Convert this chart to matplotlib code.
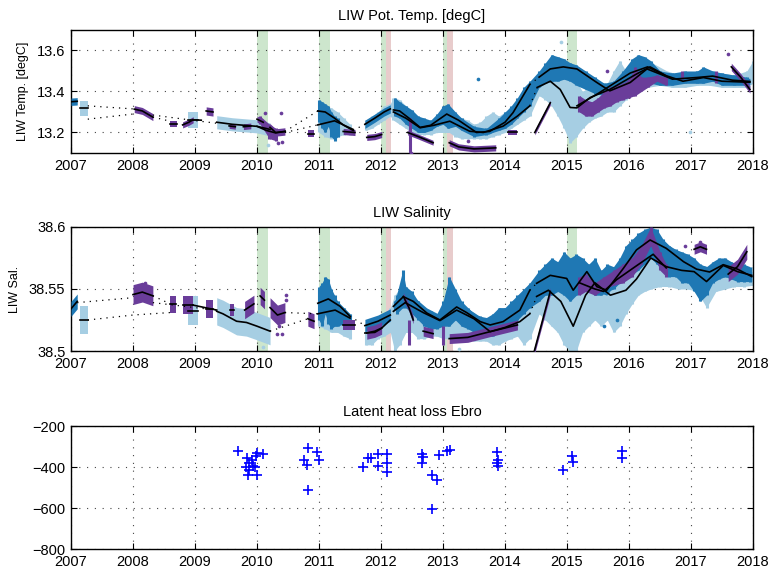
import matplotlib
matplotlib.use("Agg")
import matplotlib.pyplot as plt

plt.rcParams["font.family"] = ["Liberation Sans", "DejaVu Sans"]

LIGHT = "#a6cee3"
DARK = "#1f78b4"
PURPLE = "#6a3d9a"

# shaded winter periods
GREEN_SPANS = [(2010.0, 2010.18), (2011.0, 2011.18), (2012.0, 2012.08), (2013.0, 2013.07), (2015.0, 2015.16)]
PINK_SPANS = [(2012.08, 2012.16), (2013.07, 2013.16)]

# ---------------- potential temperature ----------------
# vertical spread of the scatter clouds: (time, low, high)
TEMP_LIGHT_CLOUD = [
    (2011.0, 13.20, 13.30), (2011.1, 13.18, 13.33), (2011.2, 13.17, 13.32), (2011.3, 13.18, 13.30),
    (2011.4, 13.19, 13.27), (2011.5, 13.19, 13.24),
    (2011.75, 13.21, 13.26), (2011.85, 13.22, 13.28), (2011.95, 13.24, 13.30), (2012.05, 13.26, 13.33),
    (2012.15, 13.28, 13.34),
    (2012.2, 13.26, 13.37), (2012.3, 13.24, 13.36), (2012.4, 13.22, 13.33), (2012.5, 13.20, 13.30),
    (2012.6, 13.19, 13.27), (2012.7, 13.19, 13.25), (2012.8, 13.19, 13.25), (2012.9, 13.20, 13.27),
    (2013.0, 13.20, 13.30), (2013.1, 13.20, 13.30), (2013.2, 13.18, 13.29), (2013.3, 13.17, 13.27),
    (2013.4, 13.17, 13.26), (2013.5, 13.17, 13.24), (2013.6, 13.17, 13.25), (2013.7, 13.17, 13.28),
    (2013.8, 13.18, 13.30), (2013.9, 13.19, 13.28), (2014.0, 13.20, 13.30), (2014.1, 13.22, 13.32),
    (2014.2, 13.24, 13.36), (2014.3, 13.26, 13.38), (2014.4, 13.28, 13.40),
    (2014.55, 13.38, 13.48), (2014.65, 13.36, 13.50), (2014.75, 13.33, 13.52), (2014.85, 13.28, 13.50),
    (2014.95, 13.22, 13.48), (2015.05, 13.15, 13.46), (2015.15, 13.18, 13.45), (2015.25, 13.22, 13.40),
    (2015.35, 13.25, 13.42), (2015.45, 13.27, 13.42), (2015.55, 13.28, 13.44), (2015.65, 13.30, 13.44),
    (2015.75, 13.30, 13.50), (2015.85, 13.33, 13.55), (2015.95, 13.36, 13.50), (2016.05, 13.38, 13.50),
    (2016.15, 13.40, 13.50), (2016.3, 13.42, 13.52), (2016.5, 13.43, 13.50), (2016.7, 13.42, 13.49),
    (2016.9, 13.42, 13.49), (2017.1, 13.43, 13.50), (2017.3, 13.43, 13.50), (2017.5, 13.42, 13.49),
    (2017.7, 13.42, 13.48), (2017.9, 13.42, 13.50), (2018.0, 13.44, 13.55),
]
TEMP_DARK_CLOUD = [
    (2011.0, 13.25, 13.36), (2011.05, 13.22, 13.35), (2011.1, 13.20, 13.34), (2011.15, 13.23, 13.33),
    (2011.2, 13.18, 13.30), (2011.25, 13.16, 13.28), (2011.3, 13.18, 13.27),
    (2012.22, 13.28, 13.37), (2012.3, 13.27, 13.35), (2012.4, 13.24, 13.33), (2012.5, 13.22, 13.31),
    (2012.6, 13.20, 13.28), (2012.7, 13.20, 13.27), (2012.8, 13.21, 13.26), (2012.9, 13.23, 13.29),
    (2013.0, 13.24, 13.33), (2013.08, 13.22, 13.34), (2013.2, 13.23, 13.30), (2013.3, 13.21, 13.27),
    (2013.5, 13.18, 13.23), (2013.7, 13.19, 13.22), (2013.9, 13.21, 13.27), (2014.0, 13.22, 13.30),
    (2014.1, 13.24, 13.33), (2014.2, 13.27, 13.37), (2014.3, 13.30, 13.42), (2014.4, 13.33, 13.45),
    (2014.55, 13.42, 13.50), (2014.65, 13.44, 13.54), (2014.75, 13.45, 13.58), (2014.85, 13.45, 13.57),
    (2014.95, 13.46, 13.56), (2015.05, 13.45, 13.54), (2015.15, 13.43, 13.53), (2015.3, 13.41, 13.50),
    (2015.45, 13.39, 13.47), (2015.6, 13.38, 13.44), (2015.75, 13.38, 13.45), (2015.9, 13.40, 13.50),
    (2016.05, 13.42, 13.56), (2016.15, 13.44, 13.58), (2016.25, 13.45, 13.57), (2016.35, 13.44, 13.55),
    (2016.5, 13.43, 13.50), (2016.7, 13.43, 13.49), (2016.9, 13.44, 13.50), (2017.1, 13.44, 13.50),
    (2017.2, 13.44, 13.52), (2017.35, 13.45, 13.50), (2017.5, 13.43, 13.49), (2017.7, 13.43, 13.48),
    (2017.9, 13.43, 13.47),
]
TEMP_PURPLE_CLOUD = [
    (2010.05, 13.24, 13.28), (2010.2, 13.17, 13.24), (2010.3, 13.16, 13.22), (2012.47, 13.10, 13.27),
    (2015.2, 13.30, 13.38), (2015.3, 13.28, 13.36), (2015.4, 13.28, 13.35), (2015.5, 13.30, 13.37),
    (2015.6, 13.32, 13.40), (2015.7, 13.33, 13.42), (2015.8, 13.35, 13.43), (2015.9, 13.36, 13.44),
    (2016.0, 13.37, 13.46), (2016.1, 13.38, 13.52), (2016.2, 13.40, 13.47), (2016.3, 13.42, 13.47),
    (2016.45, 13.45, 13.48), (2016.6, 13.43, 13.47), (2016.85, 13.46, 13.50), (2017.4, 13.44, 13.50),
]
# smoothed fits: (times, values, half width of the coloured band)
TEMP_LIGHT_FIT = [
    ([2007.15, 2007.27], [13.318, 13.318], 0.038),
    ([2008.89, 2009.05], [13.262, 13.262], 0.038),
    ([2009.35, 2009.6, 2009.8, 2010.0, 2010.21], [13.25, 13.24, 13.235, 13.23, 13.215], 0.032),
    ([2010.0, 2010.15, 2010.3, 2010.45], [13.23, 13.21, 13.198, 13.205], 0),
    ([2010.98, 2011.25, 2011.55], [13.237, 13.257, 13.215], 0),
    ([2012.2, 2012.4, 2012.63, 2012.85, 2013.11, 2013.43, 2013.65, 2013.97, 2014.2, 2014.4],
     [13.30, 13.27, 13.223, 13.235, 13.255, 13.206, 13.20, 13.231, 13.28, 13.33], 0.02),
    ([2014.52, 2014.73, 2014.89, 2015.05, 2015.16, 2015.37, 2015.69, 2016.12, 2016.34, 2016.6, 2016.87,
      2017.2, 2017.5, 2017.95], [13.42, 13.45, 13.41, 13.322, 13.32, 13.37, 13.41, 13.485, 13.52, 13.477,
                                 13.45, 13.468, 13.45, 13.445], 0.025),
]
TEMP_DARK_FIT = [
    ([2007.0, 2007.1], [13.35, 13.352], 0.018),
    ([2010.98, 2011.1, 2011.25, 2011.4, 2011.55], [13.305, 13.30, 13.27, 13.235, 13.21], 0),
    ([2011.74, 2011.9, 2012.05, 2012.15], [13.24, 13.27, 13.30, 13.315], 0.02),
    ([2012.2, 2012.3, 2012.45, 2012.63, 2012.8, 2013.06, 2013.25, 2013.54, 2013.75, 2014.0, 2014.13, 2014.4],
     [13.31, 13.305, 13.27, 13.225, 13.235, 13.29, 13.26, 13.20, 13.205, 13.25, 13.297, 13.434], 0.012),
    ([2014.55, 2014.73, 2014.94, 2015.16, 2015.48, 2015.69, 2016.02, 2016.29, 2016.5, 2016.7, 2017.09,
      2017.35, 2017.67, 2017.95], [13.47, 13.51, 13.52, 13.51, 13.444, 13.403, 13.444, 13.51, 13.485,
                                   13.46, 13.468, 13.475, 13.455, 13.449], 0.015),
]
TEMP_PURPLE_FIT = [
    ([2008.02, 2008.15, 2008.32], [13.314, 13.305, 13.275], 0.017),
    ([2008.6, 2008.71], [13.24, 13.24], 0.015),
    ([2008.8, 2008.9, 2008.97], [13.237, 13.25, 13.262], 0.015),
    ([2008.97, 2009.1], [13.262, 13.26], 0),
    ([2009.18, 2009.29], [13.305, 13.30], 0.02),
    ([2009.55, 2009.65], [13.232, 13.228], 0.012),
    ([2009.78, 2009.9], [13.228, 13.232], 0.014),
    ([2010.0, 2010.1], [13.265, 13.25], 0.015),
    ([2010.21, 2010.3, 2010.45], [13.225, 13.20, 13.205], 0.018),
    ([2010.82, 2010.92], [13.195, 13.195], 0.015),
    ([2011.39, 2011.58], [13.205, 13.20], 0.015),
    ([2011.77, 2011.9, 2012.01], [13.176, 13.18, 13.19], 0.015),
    ([2012.43, 2012.6, 2012.84], [13.20, 13.18, 13.15], 0.012),
    ([2013.1, 2013.25, 2013.5, 2013.85], [13.15, 13.13, 13.12, 13.125], 0.015),
    ([2014.05, 2014.2], [13.20, 13.20], 0.012),
    ([2014.48, 2014.73], [13.20, 13.345], 0.012),
    ([2015.16, 2015.5, 2016.02, 2016.3, 2016.6], [13.33, 13.39, 13.49, 13.52, 13.475], 0),
    ([2017.65, 2017.8, 2017.95], [13.52, 13.47, 13.41], 0.018),
]
TEMP_GAPS = [
    ([2007.27, 2008.0], [13.33, 13.315]),
    ([2007.27, 2008.0], [13.265, 13.29]),
    ([2008.32, 2008.6], [13.275, 13.255]),
    ([2008.32, 2009.0, 2009.35], [13.285, 13.258, 13.245]),
    ([2010.45, 2010.98], [13.205, 13.305]),
    ([2010.45, 2010.98], [13.20, 13.237]),
    ([2011.55, 2011.74], [13.21, 13.24]),
    ([2014.4, 2014.55], [13.434, 13.47]),
    ([2014.4, 2014.52], [13.33, 13.42]),
]
TEMP_LIGHT_DOTS = [(2014.91, 13.64), (2016.98, 13.20), (2010.18, 13.137)]
TEMP_DARK_DOTS = [(2013.57, 13.46)]
TEMP_PURPLE_DOTS = [(2010.13, 13.297), (2010.38, 13.297), (2010.34, 13.15), (2010.4, 13.155),
                    (2012.49, 13.10), (2013.4, 13.16), (2015.64, 13.50), (2017.6, 13.585)]

# ---------------- salinity ----------------
SAL_LIGHT_CLOUD = [
    (2011.0, 38.520, 38.550), (2011.1, 38.518, 38.548), (2011.2, 38.515, 38.545), (2011.3, 38.515, 38.540),
    (2011.4, 38.512, 38.535), (2011.5, 38.510, 38.530),
    (2011.75, 38.505, 38.520), (2011.85, 38.505, 38.522), (2011.95, 38.510, 38.525), (2012.05, 38.512, 38.530),
    (2012.15, 38.515, 38.535),
    (2012.22, 38.500, 38.545), (2012.3, 38.505, 38.550), (2012.4, 38.515, 38.548), (2012.5, 38.515, 38.545),
    (2012.6, 38.510, 38.540), (2012.7, 38.510, 38.535), (2012.8, 38.512, 38.530), (2012.9, 38.512, 38.530),
    (2013.0, 38.510, 38.535), (2013.1, 38.510, 38.540), (2013.2, 38.510, 38.540), (2013.3, 38.510, 38.535),
    (2013.4, 38.510, 38.532), (2013.5, 38.508, 38.528), (2013.6, 38.508, 38.525), (2013.7, 38.508, 38.525),
    (2013.8, 38.505, 38.527), (2013.9, 38.505, 38.530), (2014.0, 38.508, 38.532), (2014.1, 38.510, 38.535),
    (2014.2, 38.512, 38.535), (2014.3, 38.505, 38.540), (2014.4, 38.510, 38.540),
    (2014.55, 38.530, 38.555), (2014.65, 38.525, 38.558), (2014.75, 38.520, 38.555), (2014.85, 38.515, 38.552),
    (2014.95, 38.505, 38.550), (2015.05, 38.500, 38.545), (2015.15, 38.500, 38.548), (2015.25, 38.515, 38.550),
    (2015.35, 38.520, 38.555), (2015.45, 38.525, 38.555), (2015.55, 38.520, 38.548), (2015.65, 38.525, 38.550),
    (2015.75, 38.515, 38.552), (2015.85, 38.520, 38.555), (2015.95, 38.530, 38.560), (2016.05, 38.538, 38.565),
    (2016.15, 38.545, 38.570), (2016.25, 38.548, 38.575), (2016.35, 38.550, 38.578), (2016.5, 38.552, 38.575),
    (2016.65, 38.552, 38.570), (2016.8, 38.550, 38.568), (2016.95, 38.550, 38.566), (2017.1, 38.548, 38.565),
    (2017.25, 38.535, 38.560), (2017.4, 38.548, 38.565), (2017.55, 38.550, 38.568), (2017.7, 38.552, 38.568),
    (2017.85, 38.552, 38.566), (2018.0, 38.553, 38.568),
]
SAL_DARK_CLOUD = [
    (2011.0, 38.525, 38.552), (2011.05, 38.520, 38.555), (2011.1, 38.530, 38.560), (2011.15, 38.522, 38.558),
    (2011.2, 38.518, 38.550), (2011.25, 38.520, 38.545), (2011.3, 38.520, 38.540), (2011.4, 38.522, 38.535),
    (2011.5, 38.520, 38.530),
    (2012.25, 38.530, 38.545), (2012.35, 38.535, 38.565), (2012.4, 38.535, 38.552), (2012.5, 38.530, 38.548),
    (2012.6, 38.525, 38.540), (2012.7, 38.520, 38.535), (2012.8, 38.518, 38.532), (2012.9, 38.518, 38.530),
    (2013.0, 38.520, 38.540), (2013.1, 38.520, 38.560), (2013.2, 38.525, 38.550), (2013.3, 38.520, 38.540),
    (2013.4, 38.518, 38.535), (2013.5, 38.515, 38.530), (2013.6, 38.515, 38.528), (2013.7, 38.512, 38.527),
    (2013.8, 38.512, 38.530), (2013.9, 38.515, 38.535), (2014.0, 38.518, 38.535), (2014.1, 38.520, 38.540),
    (2014.2, 38.525, 38.545), (2014.3, 38.530, 38.550), (2014.4, 38.535, 38.555),
    (2014.55, 38.540, 38.565), (2014.65, 38.545, 38.570), (2014.75, 38.545, 38.575), (2014.85, 38.548, 38.572),
    (2014.95, 38.545, 38.580), (2015.05, 38.540, 38.575), (2015.15, 38.545, 38.578), (2015.25, 38.548, 38.575),
    (2015.35, 38.550, 38.570), (2015.45, 38.545, 38.575), (2015.55, 38.545, 38.565), (2015.65, 38.548, 38.570),
    (2015.75, 38.550, 38.568), (2015.85, 38.555, 38.575), (2015.95, 38.560, 38.585), (2016.05, 38.562, 38.590),
    (2016.15, 38.565, 38.595), (2016.25, 38.570, 38.598), (2016.35, 38.575, 38.600), (2016.45, 38.570, 38.598),
    (2016.55, 38.565, 38.590), (2016.65, 38.560, 38.585), (2016.75, 38.560, 38.582), (2016.85, 38.555, 38.580),
    (2016.95, 38.555, 38.578), (2017.05, 38.548, 38.575), (2017.15, 38.540, 38.570), (2017.25, 38.545, 38.568),
    (2017.35, 38.555, 38.572), (2017.45, 38.558, 38.575), (2017.55, 38.560, 38.575), (2017.65, 38.558, 38.572),
    (2017.75, 38.556, 38.570), (2017.85, 38.556, 38.570), (2017.95, 38.556, 38.568),
]
SAL_PURPLE_CLOUD = [
    (2012.45, 38.505, 38.525), (2013.0, 38.505, 38.520), (2015.2, 38.545, 38.560), (2015.3, 38.548, 38.562),
    (2015.45, 38.545, 38.555), (2015.6, 38.550, 38.560), (2015.75, 38.553, 38.565), (2015.9, 38.555, 38.570),
    (2016.05, 38.560, 38.575), (2016.2, 38.570, 38.585), (2016.35, 38.585, 38.600), (2016.5, 38.565, 38.580),
    (2016.6, 38.560, 38.570),
]
SAL_LIGHT_FIT = [
    ([2007.15, 2007.27], [38.525, 38.525], 0.011),
    ([2008.89, 2009.05], [38.5325, 38.5325], 0.0115),
    ([2009.35, 2009.45, 2009.67, 2009.83, 2010.0, 2010.21], [38.532, 38.530, 38.524, 38.523, 38.52, 38.516], 0.011),
    ([2010.98, 2011.26, 2011.5], [38.530, 38.533, 38.5265], 0),
    ([2011.74, 2011.9, 2012.0, 2012.15], [38.5145, 38.515, 38.518, 38.525], 0),
    ([2012.2, 2012.39, 2012.68, 2012.95, 2013.22, 2013.5, 2013.76, 2014.0, 2014.24, 2014.4],
     [38.532, 38.539, 38.531, 38.5245, 38.533, 38.526, 38.5156, 38.519, 38.5237, 38.530], 0.005),
    ([2014.51, 2014.7, 2014.9, 2015.1, 2015.3, 2015.45, 2015.7, 2015.95, 2016.12, 2016.35, 2016.6, 2016.85,
      2017.05, 2017.25, 2017.52, 2017.75, 2017.98],
     [38.544, 38.549, 38.540, 38.520, 38.545, 38.555, 38.545, 38.549, 38.558, 38.575, 38.568, 38.565,
      38.564, 38.556, 38.569, 38.564, 38.561], 0.005),
]
SAL_DARK_FIT = [
    ([2007.0, 2007.05, 2007.1], [38.534, 38.537, 38.540], 0.006),
    ([2010.98, 2011.15, 2011.34, 2011.5], [38.5385, 38.542, 38.536, 38.528], 0),
    ([2011.74, 2011.95, 2012.15], [38.5205, 38.524, 38.529], 0.005),
    ([2012.2, 2012.36, 2012.52, 2012.74, 2012.95, 2013.22, 2013.38, 2013.6, 2013.76, 2013.97, 2014.24, 2014.4],
     [38.536, 38.5438, 38.540, 38.5306, 38.525, 38.5355, 38.531, 38.5237, 38.521, 38.5237, 38.533, 38.549], 0.004),
    ([2014.51, 2014.73, 2014.995, 2015.1, 2015.32, 2015.48, 2015.64, 2015.91, 2016.12, 2016.34, 2016.6,
      2016.88, 2017.09, 2017.3, 2017.52, 2017.75, 2017.98],
     [38.5546, 38.561, 38.5585, 38.549, 38.564, 38.5519, 38.549, 38.5667, 38.5815, 38.5895, 38.5828,
      38.572, 38.566, 38.5637, 38.5696, 38.566, 38.560], 0.004),
]
SAL_PURPLE_FIT = [
    ([2008.0, 2008.15, 2008.32], [38.5455, 38.5475, 38.5445], 0.008),
    ([2008.6, 2008.7], [38.5376, 38.5376], 0.007),
    ([2008.81, 2008.97], [38.537, 38.537], 0.007),
    ([2008.97, 2009.35], [38.537, 38.533], 0),
    ([2009.18, 2009.29], [38.534, 38.534], 0.007),
    ([2009.57, 2009.63], [38.533, 38.533], 0.005),
    ([2009.8, 2009.95], [38.533, 38.538], 0.007),
    ([2010.05, 2010.12], [38.5444, 38.541], 0.007),
    ([2010.21, 2010.33, 2010.45], [38.535, 38.529, 38.531], 0.008),
    ([2010.82, 2010.92], [38.526, 38.524], 0.006),
    ([2011.39, 2011.58], [38.521, 38.521], 0.004),
    ([2011.77, 2011.9, 2012.01], [38.5145, 38.516, 38.5185], 0.005),
    ([2012.36, 2012.45, 2012.52], [38.544, 38.535, 38.525], 0.003),
    ([2012.68, 2012.84], [38.516, 38.514], 0.004),
    ([2013.1, 2013.4, 2013.76, 2014.2], [38.510, 38.511, 38.5156, 38.521], 0.004),
    ([2014.47, 2014.73], [38.4995, 38.548], 0.003),
    ([2015.2, 2015.45, 2015.59, 2015.8, 2016.1, 2016.39, 2016.6], [38.555, 38.550, 38.548, 38.5575, 38.568, 38.578, 38.567], 0),
    ([2017.05, 2017.15, 2017.25], [38.582, 38.584, 38.582], 0.004),
    ([2017.6, 2017.75, 2017.9], [38.562, 38.568, 38.580], 0.006),
]
SAL_GAPS = [
    ([2007.1, 2008.0], [38.539, 38.543]),
    ([2007.27, 2008.0, 2008.6], [38.525, 38.529, 38.531]),
    ([2008.32, 2008.6], [38.5445, 38.538]),
    ([2008.32, 2009.0, 2009.35], [38.539, 38.535, 38.533]),
    ([2010.45, 2010.98], [38.531, 38.530]),
    ([2010.21, 2010.82], [38.516, 38.526]),
    ([2011.5, 2011.74], [38.528, 38.5205]),
    ([2014.4, 2014.51], [38.549, 38.5546]),
    ([2014.4, 2014.51], [38.530, 38.5438]),
]
SAL_LIGHT_DOTS = [(2010.1, 38.503), (2013.25, 38.502)]
SAL_DARK_DOTS = [(2015.6, 38.52), (2015.8, 38.525)]
SAL_PURPLE_DOTS = [(2008.2, 38.555), (2010.47, 38.545), (2010.47, 38.541), (2010.35, 38.520),
                   (2010.32, 38.514), (2010.4, 38.514), (2016.9, 38.585), (2017.15, 38.588)]

# ---------------- latent heat loss ----------------
HEAT_T = [2009.70, 2009.84, 2009.87, 2009.82, 2009.87, 2009.85, 2009.92, 2009.94, 2009.96, 2009.98,
          2010.00, 2010.10, 2010.00, 2010.75, 2010.82, 2010.81, 2010.82, 2010.97, 2011.00,
          2011.71, 2011.79, 2011.84, 2011.95, 2011.95, 2012.09, 2012.09, 2012.09,
          2012.66, 2012.68, 2012.66, 2012.82, 2012.91, 2012.82, 2012.93, 2013.06, 2013.12,
          2013.87, 2013.89, 2013.87, 2013.88, 2014.94, 2015.08, 2015.10, 2015.88, 2015.88]
HEAT_V = [-322, -358, -382, -401, -415, -439, -366, -395, -400, -346,
          -330, -336, -439, -366, -306, -390, -512, -325, -366,
          -398, -358, -358, -336, -395, -336, -382, -422,
          -336, -350, -382, -439, -463, -606, -341, -320, -315,
          -325, -366, -382, -395, -415, -346, -374, -320, -358]


def style_axes(ax, ylim, yticks, yticklabels):
    ax.set_xlim(2007, 2018)
    ax.set_ylim(*ylim)
    ax.set_xticks(range(2007, 2019))
    ax.set_yticks(yticks)
    ax.set_yticklabels(yticklabels)
    ax.tick_params(direction="in", top=True, right=True, length=4, width=0.8, labelsize=10.5, pad=4)
    ax.grid(True, linestyle=(0, (1, 6)), color="#444444", linewidth=0.8)
    ax.set_axisbelow(True)
    for sp in ax.spines.values():
        sp.set_linewidth(1.0)


def draw_spans(ax):
    for a, b in GREEN_SPANS:
        ax.axvspan(a, b, color="#cde6cd", lw=0, zorder=0.5)
    for a, b in PINK_SPANS:
        ax.axvspan(a, b, color="#e8cccc", lw=0, zorder=0.5)


def split_runs(cloud, max_step=0.22):
    runs = [[cloud[0]]]
    for c in cloud[1:]:
        if c[0] - runs[-1][-1][0] > max_step:
            runs.append([c])
        else:
            runs[-1].append(c)
    return runs


def draw_cloud(ax, cloud, color, z, max_step=0.22):
    # filled body of the point cloud, plus streaks at the sampled times
    for run in split_runs(cloud, max_step):
        t = [c[0] for c in run]
        if len(run) > 1:
            ax.fill_between(t, [c[1] for c in run], [c[2] for c in run], color=color, lw=0, zorder=z)
    ax.vlines([c[0] for c in cloud], [c[1] for c in cloud], [c[2] for c in cloud],
              color=color, linewidth=2.2, zorder=z)


def draw_fits(ax, fits, color, z):
    for t, v, hw in fits:
        if hw > 0:
            ax.fill_between(t, [x - hw for x in v], [x + hw for x in v], color=color, lw=0, zorder=z)
    for t, v, hw in fits:
        ax.plot(t, v, color="black", lw=1.2, zorder=6)


def draw_dots(ax, dots, color):
    if dots:
        ax.scatter([d[0] for d in dots], [d[1] for d in dots], s=7, color=color, lw=0, zorder=4)


def draw_panel(ax, lc, dc, pc, lf, df, pf, gaps, ld, dd, pd):
    draw_spans(ax)
    draw_cloud(ax, lc, LIGHT, 2)
    draw_dots(ax, ld, LIGHT)
    draw_fits(ax, lf, LIGHT, 2.2)
    draw_cloud(ax, dc, DARK, 2.5)
    draw_dots(ax, dd, DARK)
    draw_fits(ax, df, DARK, 2.7)
    draw_cloud(ax, pc, PURPLE, 3, max_step=0.16)
    draw_dots(ax, pd, PURPLE)
    draw_fits(ax, pf, PURPLE, 3.2)
    for t, v in gaps:
        ax.plot(t, v, color="black", lw=0.9, linestyle=(0, (1, 4)), zorder=5)


fig = plt.figure(figsize=(7.72, 5.70), dpi=100)
ax1 = fig.add_axes([0.092, 0.7316, 0.8834, 0.2158])
ax2 = fig.add_axes([0.092, 0.3842, 0.8834, 0.2176])
ax3 = fig.add_axes([0.092, 0.0368, 0.8834, 0.2158])

draw_panel(ax1, TEMP_LIGHT_CLOUD, TEMP_DARK_CLOUD, TEMP_PURPLE_CLOUD, TEMP_LIGHT_FIT, TEMP_DARK_FIT,
           TEMP_PURPLE_FIT, TEMP_GAPS, TEMP_LIGHT_DOTS, TEMP_DARK_DOTS, TEMP_PURPLE_DOTS)
style_axes(ax1, (13.1, 13.7), [13.2, 13.4, 13.6], ["13.2", "13.4", "13.6"])
ax1.set_title("LIW Pot. Temp. [degC]", fontsize=10.5, pad=7)
ax1.set_ylabel("LIW Temp. [degC]", fontsize=9, labelpad=6)

draw_panel(ax2, SAL_LIGHT_CLOUD, SAL_DARK_CLOUD, SAL_PURPLE_CLOUD, SAL_LIGHT_FIT, SAL_DARK_FIT,
           SAL_PURPLE_FIT, SAL_GAPS, SAL_LIGHT_DOTS, SAL_DARK_DOTS, SAL_PURPLE_DOTS)
style_axes(ax2, (38.5, 38.6), [38.5, 38.55, 38.6], ["38.5", "38.55", "38.6"])
ax2.set_title("LIW Salinity", fontsize=10.5, pad=7)
ax2.set_ylabel("LIW Sal.", fontsize=9, labelpad=6)

ax3.plot(HEAT_T, HEAT_V, linestyle="none", marker="+", markersize=7.5, markeredgewidth=1.2, color="blue", zorder=4)
style_axes(ax3, (-800, -200), [-800, -600, -400, -200], ["\u2212800", "\u2212600", "\u2212400", "\u2212200"])
ax3.set_title("Latent heat loss Ebro", fontsize=10.5, pad=7)

fig.savefig("out.png", dpi=100)
